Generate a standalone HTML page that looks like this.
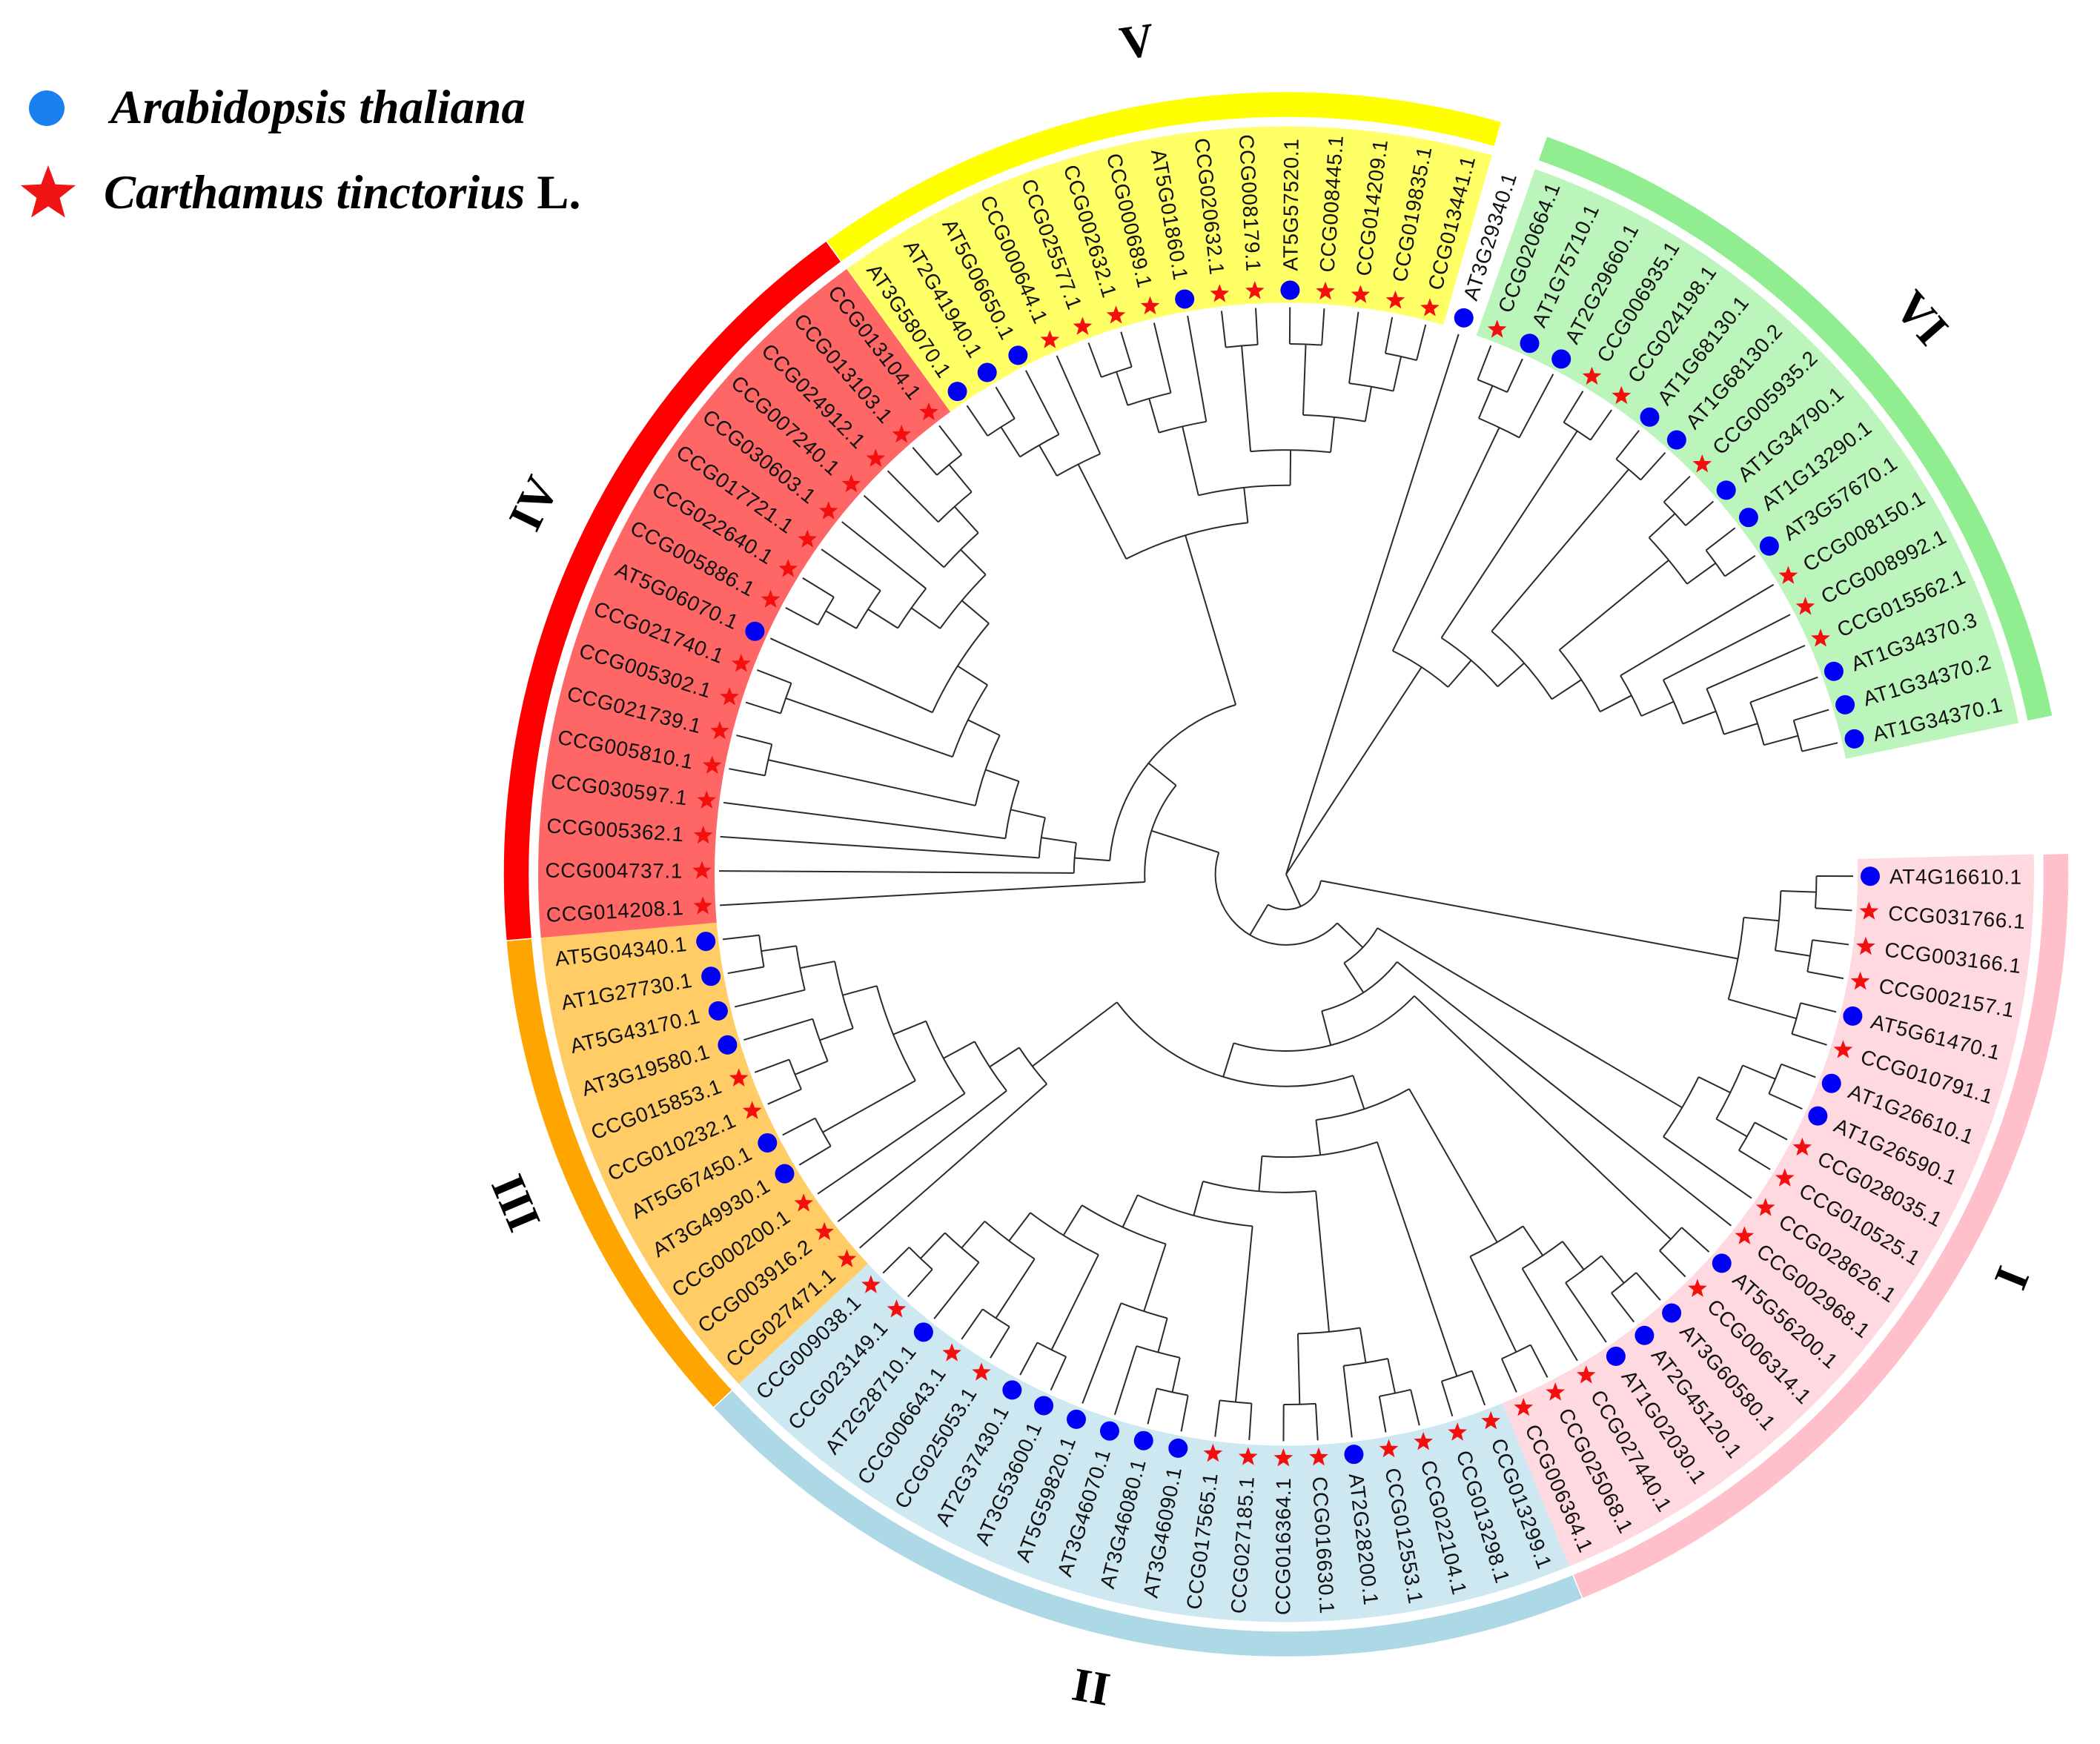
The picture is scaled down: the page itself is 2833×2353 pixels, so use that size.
<!DOCTYPE html>
<html lang="en">
<head>
<meta charset="utf-8">
<title>Circular phylogenetic tree of Arabidopsis thaliana and Carthamus tinctorius genes</title>
<style>
  html, body { margin: 0; padding: 0; background: #fff; }
  svg { display: block; }
  .leaf { font-family: "Liberation Sans", Arial, sans-serif; font-size: 28px; letter-spacing: 0.6px; fill: #111; }
  .clade { font-family: "Liberation Serif", "Times New Roman", serif; font-size: 64px; font-weight: bold; fill: #000; text-anchor: middle; }
  .legend { font-family: "Liberation Serif", "Times New Roman", serif; font-size: 64.5px; font-weight: bold; fill: #000; }
</style>
</head>
<body>
<svg id="chart" xmlns="http://www.w3.org/2000/svg" width="2833" height="2353" viewBox="0 0 2833 2353">
  <rect width="2833" height="2353" fill="#fff"/>
  <g id="bands"></g>
  <g id="rings"></g>
  <g id="branches" fill="none" stroke="#2b2b2b" stroke-width="2"></g>
  <g id="markers"></g>
  <g id="labels"></g>
  <g id="cladeLabels"></g>
  <g>
    <circle cx="63" cy="146" r="24" fill="#1a80f0"/>
    <text class="legend" x="149" y="166" font-style="italic" textLength="560" lengthAdjust="spacingAndGlyphs">Arabidopsis thaliana</text>
    <polygon id="legendStar" fill="#f01414"/>
    <text class="legend" x="140" y="281"><tspan font-style="italic">Carthamus tinctorius</tspan> L.</text>
  </g>
</svg>
<script>
// ---- Data ----
const leafNames = [
  "AT4G16610.1","CCG031766.1","CCG003166.1","CCG002157.1","AT5G61470.1","CCG010791.1","AT1G26610.1","AT1G26590.1","CCG028035.1","CCG010525.1",
  "CCG028626.1","CCG002968.1","AT5G56200.1","CCG006314.1","AT3G60580.1","AT2G45120.1","AT1G02030.1","CCG027440.1","CCG025068.1","CCG006364.1",
  "CCG013299.1","CCG013298.1","CCG022104.1","CCG012553.1","AT2G28200.1","CCG016630.1","CCG016364.1","CCG027185.1","CCG017565.1","AT3G46090.1",
  "AT3G46080.1","AT3G46070.1","AT5G59820.1","AT3G53600.1","AT2G37430.1","CCG025053.1","CCG006643.1","AT2G28710.1","CCG023149.1","CCG009038.1",
  "CCG027471.1","CCG003916.2","CCG000200.1","AT3G49930.1","AT5G67450.1","CCG010232.1","CCG015853.1","AT3G19580.1","AT5G43170.1","AT1G27730.1","AT5G04340.1",
  "CCG014208.1","CCG004737.1","CCG005362.1","CCG030597.1","CCG005810.1","CCG021739.1","CCG005302.1","CCG021740.1","AT5G06070.1","CCG005886.1",
  "CCG022640.1","CCG017721.1","CCG030603.1","CCG007240.1","CCG024912.1","CCG013103.1","CCG013104.1",
  "AT3G58070.1","AT2G41940.1","AT5G06650.1","CCG000644.1","CCG025577.1","CCG002632.1","CCG000689.1","AT5G01860.1","CCG020632.1","CCG008179.1",
  "AT5G57520.1","CCG008445.1","CCG014209.1","CCG019835.1","CCG013441.1","AT3G29340.1",
  "CCG020664.1","AT1G75710.1","AT2G29660.1","CCG006935.1","CCG024198.1","AT1G68130.1","AT1G68130.2","CCG005935.2","AT1G34790.1","AT1G13290.1",
  "AT3G57670.1","CCG008150.1","CCG008992.1","CCG015562.1","AT1G34370.3","AT1G34370.2","AT1G34370.1"
];
const cladeNames     = ["I","II","III","IV","V","VI"];
const cladeFirstLeaf = [0,20,40,51,68,84];
const cladeLastLeaf  = [19,39,50,67,82,100];
const cladeBandFill  = ["#ffd9e0","#cde8f1","#ffcc66","#ff6666","#ffff66","#bcf5bc"];
const cladeRingFill  = ["#ffc0cb","#add8e6","#ffa500","#ff0000","#ffff00","#90ee90"];

// Tree topology: nested clades of leaf indices (clockwise order).
const cladeOneTop   = [[[0,1],[2,3]],[4,5]];
const cladeOneMid   = [[[6,7],[8,9]],10];
const cladeOneLow   = [[[[14,15],16],17],[18,19]];
const cladeTwoA     = [[[22,23],24],[25,26]];
const cladeTwoB     = [[[29,30],31],32];
const cladeTwoC     = [[33,34],[[35,36],[37,[38,39]]]];
const cladeTwoAll   = [[20,21],[cladeTwoA,[[27,28],[cladeTwoB,cladeTwoC]]]];
const cladeThree    = [40,[41,[42,[[43,44],[[[45,46],47],[48,[49,50]]]]]]];
const cladeFour     = [52,[53,[54,[[55,56],[[57,58],[59,[[[[60,61],62],63],[64,[65,[66,67]]]]]]]]]];
const cladeFive     = [[[[68,69],70],71],[[[[72,73],74],75],[[76,77],[[78,79],[80,[81,82]]]]]];
const cladeSix      = [[[84,85],86],[[87,88],[[89,90],[[[91,92],[93,94]],[95,[96,[97,[98,[99,100]]]]]]]]];
const lowerBackbone = [cladeOneMid,[11,[[12,13],[[cladeOneLow,cladeTwoAll],cladeThree]]]];
const upperBackbone = [51,[cladeFour,cladeFive]];
const treeRoot      = [[cladeOneTop,[lowerBackbone,upperBackbone]],83,cladeSix];

// ---- Scales ----
const CX = 1735, CY = 1179.5;
const LEAF_START = 0.2, LEAF_STEP = 3.464;   // degrees, clockwise from +x
const LEVEL = 47.7, LEVELS = 16, TIP_R = 765;
const BAND_IN = 771, BAND_OUT = 1009, RING_IN = 1021, RING_OUT = 1056;
const MARK_R = 788, LABEL_R = 814;
const SVGNS = "http://www.w3.org/2000/svg";

const angleOf = i => LEAF_START + LEAF_STEP * i;
const radiusOfHeight = h => h === 0 ? TIP_R : (LEVELS - h) * LEVEL;
const px = (r, a) => CX + r * Math.cos(a * Math.PI / 180);
const py = (r, a) => CY + r * Math.sin(a * Math.PI / 180);
const fx = v => v.toFixed(2);

function make(tag, parent, attrs) {
  const el = document.createElementNS(SVGNS, tag);
  for (const k in attrs) el.setAttribute(k, attrs[k]);
  parent.appendChild(el);
  return el;
}
function arcPath(r, a0, a1) {
  return "M" + fx(px(r,a0)) + " " + fx(py(r,a0)) + "A" + r + " " + r + " 0 " + (a1 - a0 > 180 ? 1 : 0) + " 1 " + fx(px(r,a1)) + " " + fx(py(r,a1));
}
function sector(r0, r1, a0, a1) {
  return "M" + fx(px(r0,a0)) + " " + fx(py(r0,a0)) + "L" + fx(px(r1,a0)) + " " + fx(py(r1,a0)) +
    "A" + r1 + " " + r1 + " 0 0 1 " + fx(px(r1,a1)) + " " + fx(py(r1,a1)) +
    "L" + fx(px(r0,a1)) + " " + fx(py(r0,a1)) + "A" + r0 + " " + r0 + " 0 0 0 " + fx(px(r0,a0)) + " " + fx(py(r0,a0)) + "Z";
}
function starPoints(x, y, R) {
  const pts = [];
  for (let i = 0; i < 10; i++) {
    const rad = i % 2 ? R * 0.42 : R;
    const t = (-90 + i * 36) * Math.PI / 180;
    pts.push(fx(x + rad * Math.cos(t)) + "," + fx(y + rad * Math.sin(t)));
  }
  return pts.join(" ");
}

// ---- Clade bands, rings and labels ----
const bandsG = document.getElementById("bands");
const ringsG = document.getElementById("rings");
const cladeLabelG = document.getElementById("cladeLabels");
cladeNames.forEach((name, c) => {
  const a0 = angleOf(cladeFirstLeaf[c] - 0.5);
  const a1 = angleOf(cladeLastLeaf[c] + 0.5);
  const band = make("path", bandsG, { d: sector(BAND_IN, BAND_OUT, a0, a1), fill: cladeBandFill[c] });
  
  
  const ring = make("path", ringsG, { d: sector(RING_IN, RING_OUT, a0, a1), fill: cladeRingFill[c], stroke: "#fff", "stroke-width": 1.5 });
  
  
});

const cladeLabelX = [2714, 1472, 696, 720, 1534, 2592];
const cladeLabelY = [1724, 2276, 1623, 679, 56, 429];
const cladeLabelRot = [-68, 10, 67, -64, -8, 49];
cladeNames.forEach((name, c) => {
  const t = make("text", cladeLabelG, {
    class: "clade", x: 0, y: 0, dy: "0.33em",
    transform: "translate(" + cladeLabelX[c] + " " + cladeLabelY[c] + ") rotate(" + cladeLabelRot[c] + ")"
  });
  t.textContent = name;
  
  
});

// ---- Tree ----
const branchG = document.getElementById("branches");
function layout(node) {
  if (typeof node === "number") return { angle: angleOf(node), height: 0 };
  const kids = node.map(layout);
  const height = 1 + Math.max.apply(null, kids.map(k => k.height));
  const first = kids[0].angle, last = kids[kids.length - 1].angle;
  const r = radiusOfHeight(height);
  if (r > 0) {
    const arc = make("path", branchG, { d: arcPath(r, first, last) });
    
    
  }
  kids.forEach(k => {
    const kr = radiusOfHeight(k.height);
    const line = make("line", branchG, { x1: fx(px(r, k.angle)), y1: fx(py(r, k.angle)), x2: fx(px(kr, k.angle)), y2: fx(py(kr, k.angle)) });
    
    
  });
  return { angle: (first + last) / 2, height: height };
}
layout(treeRoot);

// ---- Leaves: markers and labels ----
const markG = document.getElementById("markers");
const labelG = document.getElementById("labels");
leafNames.forEach((name, i) => {
  const a = angleOf(i);
  const x = px(MARK_R, a), y = py(MARK_R, a);
  if (name.indexOf("AT") === 0) {
    const dot = make("circle", markG, { cx: fx(x), cy: fx(y), r: 13, fill: "#0000f5" });
    
    
  } else {
    const star = make("polygon", markG, { points: starPoints(x, y, 13.5), fill: "#f40f0f" });
    
    
  }
  const norm = ((a % 360) + 360) % 360;
  const flip = norm > 90 && norm < 270;
  const lx = px(LABEL_R, a), ly = py(LABEL_R, a);
  const rot = flip ? a + 180 : a;
  const t = make("text", labelG, {
    class: "leaf", x: 0, y: 0, dy: "0.35em",
    "text-anchor": flip ? "end" : "start",
    transform: "translate(" + fx(lx) + " " + fx(ly) + ") rotate(" + rot.toFixed(2) + ")"
  });
  t.textContent = name;
  
  
});

document.getElementById("legendStar").setAttribute("points", starPoints(65, 262, 39));
</script>
</body>
</html>
